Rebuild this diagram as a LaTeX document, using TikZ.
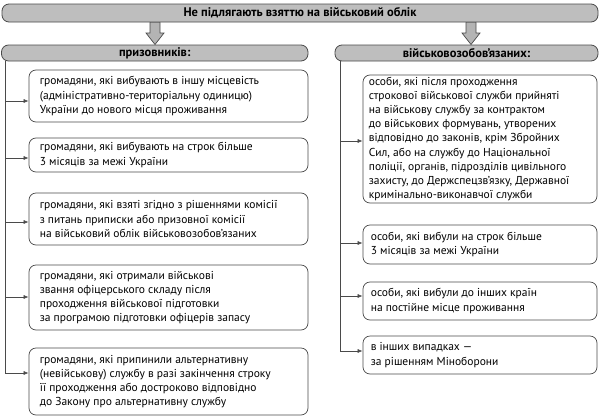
\documentclass[tikz,border=0pt]{standalone}
\usepackage{fontspec}
\setmainfont{PT Sans}
\usetikzlibrary{arrows.meta}
\definecolor{hdr}{HTML}{BEBEBE}
\definecolor{edge}{HTML}{4A4A4A}
\definecolor{arr}{HTML}{B4B4B4}
\begin{document}
\begin{tikzpicture}[x=1pt,y=-1pt,
  hdrbox/.style={draw=edge, line width=0.8pt, fill=hdr, rounded corners=7pt, font=\bfseries\fontsize{12.5}{13}\selectfont, inner sep=0pt},
  itembox/.style={draw=edge, line width=0.7pt, fill=white, rounded corners=7pt, inner sep=0pt},
  itemtext/.style={anchor=west, align=left, inner sep=0pt, font=\fontsize{11.5}{14.2}\selectfont},
  conn/.style={draw=edge, line width=0.6pt},
  tip/.style={conn, -{Latex[length=5pt,width=4pt]}},
  blockarrow/.style={draw=edge, line width=0.7pt, fill=arr}]
\useasboundingbox (0,0) rectangle (600,418);
% block arrows
\foreach \cx in {155,471}{
  \draw[blockarrow] (\cx-5,22) -- (\cx+5,22) -- (\cx+5,33) -- (\cx+9,33) -- (\cx,44.5) -- (\cx-9,33) -- (\cx-5,33) -- cycle;
}
\node[hdrbox, minimum width=596, minimum height=18] (top) at (300,13) {Не підлягають взяттю на військовий облік};
\node[hdrbox, minimum width=306.5, minimum height=16] (hL) at (154.75,53) {призовників:};
\node[hdrbox, minimum width=263, minimum height=16] (hR) at (466.5,53) {військовозобов’язаних:};
% left boxes
\node[itembox, minimum width=279, minimum height=52] (L1) at (168.5,96) {};
\node[itembox, minimum width=279, minimum height=34] (L2) at (168.5,155) {};
\node[itembox, minimum width=279, minimum height=52] (L3) at (168.5,219) {};
\node[itembox, minimum width=279, minimum height=65] (L4) at (168.5,297.5) {};
\node[itembox, minimum width=279, minimum height=67] (L5) at (168.5,381.5) {};
\node[itemtext] at ([xshift=11]L1.west) {громадяни, які вибувають в іншу місцевість\\(адміністративно-територіальну одиницю)\\України до нового місця проживання};
\node[itemtext] at ([xshift=11]L2.west) {громадяни, які вибувають на строк більше\\3 місяців за межі України};
\node[itemtext] at ([xshift=11]L3.west) {громадяни, які взяті згідно з рішеннями комісії\\з питань приписки або призовної комісії\\на військовий облік військовозобов’язаних};
\node[itemtext] at ([xshift=11]L4.west) {громадяни, які отримали військові\\звання офіцерського складу після\\проходження військової підготовки\\за програмою підготовки офіцерів запасу};
\node[itemtext] at ([xshift=11]L5.west) {громадяни, які припинили альтернативну\\(невійськову) службу в разі закінчення строку\\її проходження або достроково відповідно\\до Закону про альтернативну службу};
% right boxes
\node[itembox, minimum width=234, minimum height=128] (R1) at (480,139) {};
\node[itembox, minimum width=234, minimum height=39] (R2) at (480,244.5) {};
\node[itembox, minimum width=234, minimum height=38] (R3) at (480,301) {};
\node[itembox, minimum width=234, minimum height=38] (R4) at (480,355) {};
\node[itemtext] at ([xshift=6]R1.west) {особи, які після проходження\\строкової військової служби прийняті\\на військову службу за контрактом\\до військових формувань, утворених\\відповідно до законів, крім Збройних\\Сил, або на службу до Національної\\поліції, органів, підрозділів цивільного\\захисту, до Держспецзв’язку, Державної\\кримінально-виконавчої служби};
\node[itemtext] at ([xshift=8]R2.west) {особи, які вибули на строк більше\\3 місяців за межі України};
\node[itemtext] at ([xshift=8]R3.west) {особи, які вибули до інших країн\\на постійне місце проживання};
\node[itemtext] at ([xshift=8]R4.west) {в інших випадках —\\за рішенням Міноборони};
% left spine
\coordinate (ls) at (5,61);
\coordinate (l1) at (5,101);
\coordinate (l2) at (5,158);
\coordinate (l3) at (5,222);
\coordinate (l4) at (5,297);
\coordinate (l5) at (5,373);
\draw[tip] (ls) -- (l5) -- (l5 -| L5.west);
\foreach \n in {1,2,3,4}{\draw[tip] (l\n) -- (l\n -| L\n.west);}
% right spine
\coordinate (rs) at (340,61);
\coordinate (r1) at (340,141);
\coordinate (r2) at (340,243);
\coordinate (r3) at (340,296);
\coordinate (r4) at (340,351);
\draw[tip] (rs) -- (r4) -- (r4 -| R4.west);
\foreach \n in {1,2,3}{\draw[tip] (r\n) -- (r\n -| R\n.west);}
\end{tikzpicture}
\end{document}
